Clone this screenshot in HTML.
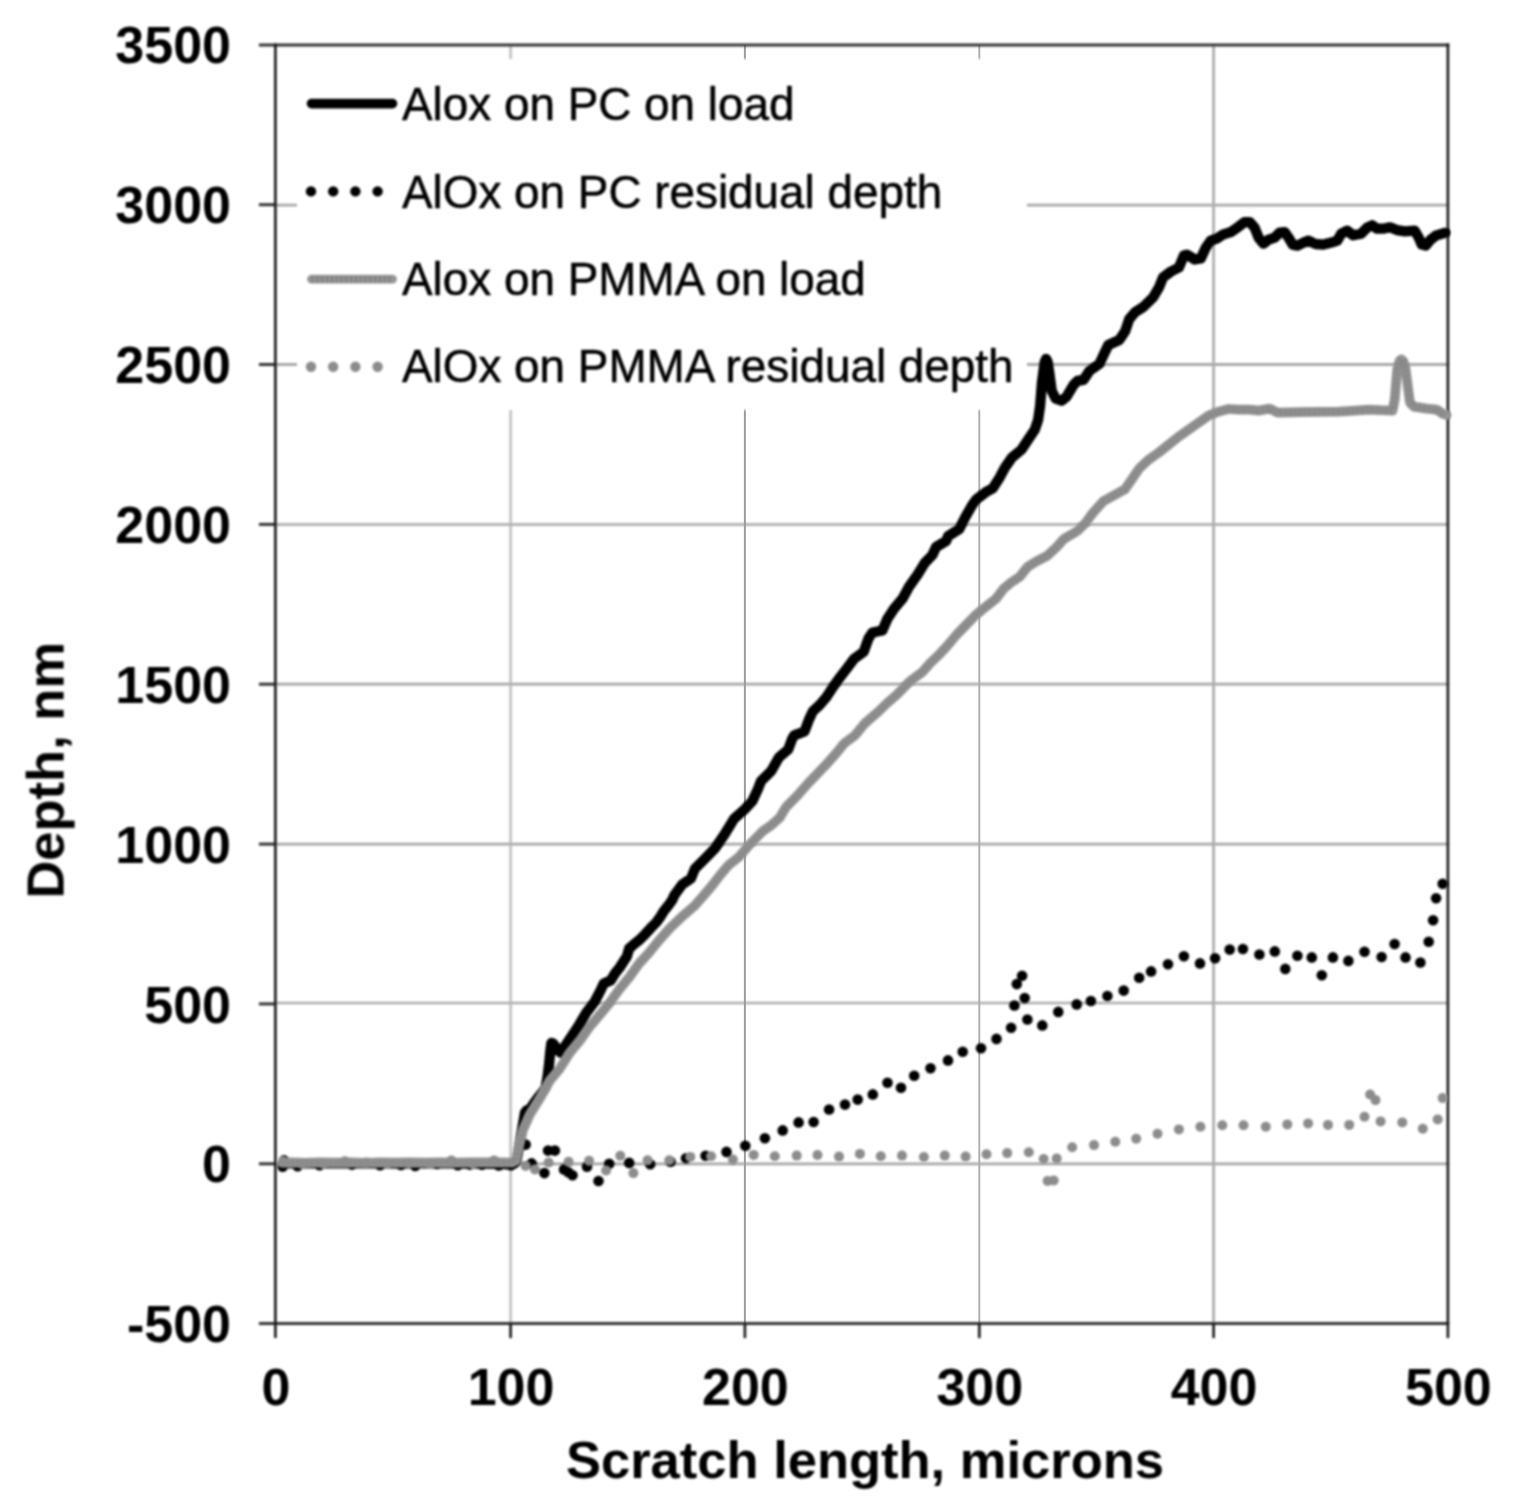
<!DOCTYPE html>
<html lang="en"><head><meta charset="utf-8"><title>Scratch depth vs scratch length</title>
<style>
html,body{margin:0;padding:0;background:#fff;}
body{width:1524px;height:1509px;overflow:hidden;}
svg{display:block;}
.soft{filter:blur(0.9px);}
text{font-family:"Liberation Sans",Arial,Helvetica,sans-serif;fill:#000;}
.tick{font-size:52px;font-weight:bold;}
.title{font-size:52.5px;font-weight:bold;}
.leg{font-size:45.85px;stroke:#000;stroke-width:0.55px;stroke-linejoin:round;}
</style></head><body>
<svg width="1524" height="1509" viewBox="0 0 1524 1509">
<rect x="0" y="0" width="1524" height="1509" fill="#fff"/>
<!-- chart -->
<g fill="none" class="soft">
<line x1="275.4" y1="205.2" x2="1447.9" y2="205.2" stroke="#a8a8a8" stroke-width="2.8"/>
<line x1="275.4" y1="364.5" x2="1447.9" y2="364.5" stroke="#a8a8a8" stroke-width="2.8"/>
<line x1="275.4" y1="524.4" x2="1447.9" y2="524.4" stroke="#b4b4b4" stroke-width="3.0"/>
<line x1="275.4" y1="684.2" x2="1447.9" y2="684.2" stroke="#a6a6a6" stroke-width="2.8"/>
<line x1="275.4" y1="844.1" x2="1447.9" y2="844.1" stroke="#a8a8a8" stroke-width="2.8"/>
<line x1="275.4" y1="1003.0" x2="1447.9" y2="1003.0" stroke="#acacac" stroke-width="2.4"/>
<line x1="275.4" y1="1163.8" x2="1447.9" y2="1163.8" stroke="#a6a6a6" stroke-width="2.8"/>
<line x1="510.6" y1="44.9" x2="510.6" y2="1323.6" stroke="#b4b4b4" stroke-width="2.2"/>
<line x1="1213.6" y1="44.9" x2="1213.6" y2="1323.6" stroke="#aeaeae" stroke-width="2.8"/>
</g>
<line x1="744.9" y1="44.9" x2="744.9" y2="1323.6" stroke="#9c9c9c" stroke-width="2"/>
<line x1="979.3" y1="44.9" x2="979.3" y2="1323.6" stroke="#adadad" stroke-width="1.9"/>
<g class="soft">
<rect x="297.0" y="59.0" width="730.0" height="351.0" fill="#fff"/>
</g>
<g fill="none" class="soft">
<line x1="258.9" y1="44.9" x2="1449.3" y2="44.9" stroke="#343434" stroke-width="3.0"/>
<line x1="258.9" y1="1323.6" x2="1449.3" y2="1323.6" stroke="#343434" stroke-width="3.0"/>
<line x1="258.9" y1="204.7" x2="275.4" y2="204.7" stroke="#343434" stroke-width="3.0"/>
<line x1="258.9" y1="364.5" x2="275.4" y2="364.5" stroke="#343434" stroke-width="3.0"/>
<line x1="258.9" y1="524.4" x2="275.4" y2="524.4" stroke="#343434" stroke-width="3.0"/>
<line x1="258.9" y1="684.2" x2="275.4" y2="684.2" stroke="#343434" stroke-width="3.0"/>
<line x1="258.9" y1="844.1" x2="275.4" y2="844.1" stroke="#343434" stroke-width="3.0"/>
<line x1="258.9" y1="1003.9" x2="275.4" y2="1003.9" stroke="#343434" stroke-width="3.0"/>
<line x1="258.9" y1="1163.8" x2="275.4" y2="1163.8" stroke="#343434" stroke-width="3.0"/>
<line x1="275.4" y1="43.5" x2="275.4" y2="1338.1" stroke="#161616" stroke-width="2.6"/>
<line x1="1447.9" y1="43.5" x2="1447.9" y2="1338.1" stroke="#161616" stroke-width="2.6"/>
<line x1="510.6" y1="1323.6" x2="510.6" y2="1338.1" stroke="#161616" stroke-width="2.6"/>
<line x1="744.9" y1="1323.6" x2="744.9" y2="1338.1" stroke="#161616" stroke-width="2.6"/>
<line x1="979.3" y1="1323.6" x2="979.3" y2="1338.1" stroke="#161616" stroke-width="2.6"/>
<line x1="1213.6" y1="1323.6" x2="1213.6" y2="1338.1" stroke="#161616" stroke-width="2.6"/>
</g>
<g class="soft">
<g fill="none" stroke-linejoin="round" stroke-linecap="round">
<polyline stroke="#000" stroke-width="10.3" points="282.3,1163.2 290.0,1163.4 305.0,1163.2 320.0,1163.5 340.0,1163.2 360.0,1163.4 380.0,1163.3 400.0,1163.5 420.0,1163.4 440.0,1163.2 460.0,1163.5 480.0,1163.6 500.0,1163.8 512.0,1164.5 514.5,1163.5 516.5,1160.0 518.5,1150.0 520.3,1140.0 522.0,1130.0 523.7,1120.0 525.0,1112.5 526.5,1110.5 530.0,1109.0 534.0,1103.0 538.8,1096.7 543.0,1091.5 545.6,1087.6 547.5,1077.0 549.0,1065.0 550.2,1052.0 551.4,1043.0 553.0,1043.5 556.5,1048.0 560.5,1052.7 564.5,1047.0 568.9,1040.3 577.9,1026.8 579.6,1024.0 586.3,1012.7 594.8,1001.5 600.7,990.2 603.8,983.4 610.6,980.6 615.1,973.3 619.6,967.6 626.9,956.4 629.2,948.5 633.1,945.1 639.9,939.5 645.5,933.8 650.6,928.2 656.2,922.5 660.2,916.9 663.7,911.3 668.3,905.6 672.2,900.0 674.5,895.0 682.2,884.5 690.9,878.6 695.0,868.6 705.0,858.7 714.7,848.7 724.3,834.8 734.0,818.9 745.0,809.0 752.4,801.0 757.9,789.1 761.0,781.2 771.1,771.2 779.0,757.3 788.3,749.3 791.9,739.4 794.2,735.4 804.5,731.5 809.0,719.5 812.7,711.6 819.1,705.6 826.0,697.7 832.5,687.7 839.6,677.8 847.3,667.8 854.0,658.9 863.6,651.9 868.5,638.4 872.5,632.5 882.4,630.5 887.5,618.6 894.1,608.6 902.5,598.7 909.0,586.8 917.5,574.8 924.8,562.9 932.4,555.0 936.1,547.0 946.1,541.0 948.1,536.1 959.2,529.1 965.2,517.2 972.1,505.2 976.4,499.3 985.6,492.3 992.8,488.3 999.7,477.4 1005.0,467.5 1012.0,457.5 1021.5,449.6 1028.1,439.6 1034.8,429.7 1038.1,419.8 1040.1,406.0 1041.9,382.8 1044.7,361.9 1046.1,358.9 1047.6,361.9 1049.2,372.0 1051.7,390.7 1055.7,398.7 1061.6,400.7 1066.6,396.7 1073.6,384.8 1077.5,380.8 1083.5,379.8 1089.5,370.9 1099.4,363.9 1105.4,351.0 1108.3,345.0 1119.3,340.0 1125.2,331.1 1129.2,319.2 1135.2,312.2 1143.1,307.2 1153.1,297.3 1159.0,287.4 1163.0,277.4 1171.0,271.5 1178.9,267.5 1183.9,255.5 1186.9,254.6 1194.8,259.5 1200.8,258.5 1205.8,247.6 1210.7,240.6 1216.7,238.6 1222.7,234.7 1230.6,232.2 1238.6,226.7 1244.5,222.2 1249.8,222.2 1254.6,227.7 1258.6,237.7 1263.5,243.6 1268.7,239.6 1274.7,237.7 1279.6,232.7 1284.6,232.1 1288.6,237.7 1292.6,244.6 1297.5,245.6 1303.5,242.6 1308.5,240.6 1315.4,244.0 1323.4,244.6 1331.3,242.6 1337.3,240.6 1341.3,233.7 1347.2,230.7 1353.2,235.3 1361.2,233.7 1367.1,227.7 1372.1,225.3 1377.1,228.7 1383.0,228.7 1390.0,227.3 1396.9,230.1 1404.9,231.3 1414.8,230.7 1418.8,237.7 1421.8,244.6 1425.8,245.6 1430.7,239.6 1435.7,235.7 1441.5,233.9 1445.3,232.8"/>
</g>
<g fill="#000">
<circle cx="284.0" cy="1160.4" r="5.3"/>
<circle cx="282.6" cy="1166.8" r="5.3"/>
<circle cx="297.6" cy="1166.2" r="5.3"/>
<circle cx="319.6" cy="1165.2" r="5.3"/>
<circle cx="352.0" cy="1164.6" r="5.3"/>
<circle cx="380.0" cy="1165.2" r="5.3"/>
<circle cx="401.0" cy="1165.0" r="5.3"/>
<circle cx="415.2" cy="1166.0" r="5.3"/>
<circle cx="437.0" cy="1164.0" r="5.3"/>
<circle cx="457.8" cy="1165.2" r="5.3"/>
<circle cx="470.0" cy="1164.6" r="5.3"/>
<circle cx="482.0" cy="1164.8" r="5.3"/>
<circle cx="498.8" cy="1165.4" r="5.3"/>
<circle cx="511.0" cy="1165.2" r="5.3"/>
<circle cx="525.6" cy="1144.6" r="5.3"/>
<circle cx="531.6" cy="1163.4" r="5.3"/>
<circle cx="544.4" cy="1173.1" r="5.3"/>
<circle cx="548.1" cy="1150.6" r="5.3"/>
<circle cx="554.9" cy="1150.6" r="5.3"/>
<circle cx="564.0" cy="1169.4" r="5.3"/>
<circle cx="568.3" cy="1172.3" r="5.3"/>
<circle cx="572.5" cy="1175.3" r="5.3"/>
<circle cx="587.0" cy="1166.8" r="5.3"/>
<circle cx="598.5" cy="1181.0" r="5.3"/>
<circle cx="609.2" cy="1163.7" r="5.3"/>
<circle cx="629.2" cy="1162.9" r="5.3"/>
<circle cx="650.2" cy="1164.2" r="5.3"/>
<circle cx="670.6" cy="1161.7" r="5.3"/>
<circle cx="686.0" cy="1158.3" r="5.3"/>
<circle cx="705.6" cy="1155.7" r="5.3"/>
<circle cx="726.5" cy="1151.9" r="5.3"/>
<circle cx="745.3" cy="1145.8" r="5.3"/>
<circle cx="764.9" cy="1138.3" r="5.3"/>
<circle cx="782.7" cy="1130.4" r="5.3"/>
<circle cx="798.6" cy="1122.4" r="5.3"/>
<circle cx="813.6" cy="1122.0" r="5.3"/>
<circle cx="829.1" cy="1109.5" r="5.3"/>
<circle cx="845.0" cy="1104.6" r="5.3"/>
<circle cx="857.7" cy="1099.6" r="5.3"/>
<circle cx="872.8" cy="1094.4" r="5.3"/>
<circle cx="887.5" cy="1082.7" r="5.3"/>
<circle cx="901.0" cy="1087.7" r="5.3"/>
<circle cx="914.2" cy="1075.7" r="5.3"/>
<circle cx="930.5" cy="1068.2" r="5.3"/>
<circle cx="948.0" cy="1060.4" r="5.3"/>
<circle cx="962.7" cy="1051.7" r="5.3"/>
<circle cx="981.0" cy="1048.3" r="5.3"/>
<circle cx="996.5" cy="1038.9" r="5.3"/>
<circle cx="1011.1" cy="1027.8" r="5.3"/>
<circle cx="1014.4" cy="1005.5" r="5.3"/>
<circle cx="1016.8" cy="984.1" r="5.3"/>
<circle cx="1022.1" cy="975.7" r="5.3"/>
<circle cx="1024.7" cy="998.0" r="5.3"/>
<circle cx="1027.4" cy="1019.5" r="5.3"/>
<circle cx="1042.3" cy="1025.4" r="5.3"/>
<circle cx="1058.3" cy="1011.9" r="5.3"/>
<circle cx="1076.7" cy="1004.4" r="5.3"/>
<circle cx="1090.9" cy="1001.0" r="5.3"/>
<circle cx="1107.4" cy="996.0" r="5.3"/>
<circle cx="1123.7" cy="990.6" r="5.3"/>
<circle cx="1139.2" cy="977.7" r="5.3"/>
<circle cx="1151.1" cy="971.4" r="5.3"/>
<circle cx="1168.0" cy="964.2" r="5.3"/>
<circle cx="1183.9" cy="956.2" r="5.3"/>
<circle cx="1200.0" cy="963.4" r="5.3"/>
<circle cx="1215.1" cy="958.2" r="5.3"/>
<circle cx="1229.7" cy="949.6" r="5.3"/>
<circle cx="1242.9" cy="949.0" r="5.3"/>
<circle cx="1259.4" cy="954.5" r="5.3"/>
<circle cx="1274.8" cy="951.4" r="5.3"/>
<circle cx="1285.3" cy="968.9" r="5.3"/>
<circle cx="1297.4" cy="955.8" r="5.3"/>
<circle cx="1311.8" cy="957.4" r="5.3"/>
<circle cx="1321.8" cy="975.2" r="5.3"/>
<circle cx="1332.9" cy="957.4" r="5.3"/>
<circle cx="1348.4" cy="960.9" r="5.3"/>
<circle cx="1364.5" cy="951.8" r="5.3"/>
<circle cx="1381.6" cy="957.0" r="5.3"/>
<circle cx="1394.6" cy="944.0" r="5.3"/>
<circle cx="1405.5" cy="957.4" r="5.3"/>
<circle cx="1420.4" cy="962.5" r="5.3"/>
<circle cx="1428.7" cy="941.8" r="5.3"/>
<circle cx="1433.1" cy="920.2" r="5.3"/>
<circle cx="1436.1" cy="898.3" r="5.3"/>
<circle cx="1442.7" cy="883.8" r="5.3"/>
</g>
<g fill="none" stroke-linejoin="round" stroke-linecap="round">
<polyline stroke="#969696" stroke-width="9.7" points="282.0,1162.7 290.0,1162.3 305.0,1162.9 320.0,1162.3 335.0,1162.7 350.0,1162.3 365.0,1162.9 380.0,1162.3 395.0,1162.7 410.0,1162.3 425.0,1162.7 440.0,1162.3 455.0,1162.7 470.0,1162.3 485.0,1162.3 500.0,1162.3 512.0,1162.5 515.8,1160.4 519.0,1146.0 522.7,1130.6 529.7,1114.7 539.6,1098.8 549.6,1080.9 559.5,1069.0 569.5,1053.1 579.4,1041.2 589.3,1027.2 599.3,1015.3 609.2,1003.4 619.2,989.5 629.1,977.5 639.0,963.6 649.0,952.7 658.9,940.5 669.8,928.3 682.4,916.3 693.9,906.4 702.8,896.5 711.3,886.5 720.5,874.6 729.0,864.7 739.2,856.7 749.3,844.8 763.0,830.9 771.6,824.9 779.5,817.9 786.1,807.0 797.8,795.1 808.3,783.1 817.9,773.2 827.3,763.3 836.2,753.3 844.2,743.4 855.0,735.4 864.7,723.5 878.4,711.6 886.6,703.6 896.9,694.7 909.5,681.7 922.2,672.2 931.0,662.3 939.3,654.4 946.8,646.4 956.8,634.5 966.5,624.5 975.2,615.6 986.0,606.6 996.0,598.7 1003.6,588.7 1010.7,582.8 1019.7,576.8 1027.6,566.9 1035.5,561.9 1047.1,555.9 1056.7,547.0 1063.8,539.0 1077.2,531.1 1085.4,523.1 1092.6,513.2 1103.3,501.3 1114.2,495.3 1125.0,489.3 1133.1,477.4 1139.4,468.3 1148.0,460.3 1159.0,452.4 1169.0,444.4 1178.9,436.5 1188.9,429.5 1198.8,422.5 1208.7,415.6 1218.7,411.6 1228.6,409.0 1238.6,409.6 1249.8,409.6 1258.4,410.6 1269.7,408.6 1277.7,412.6 1299.5,412.2 1320.0,411.8 1339.3,411.6 1355.0,410.6 1369.1,409.6 1380.0,410.2 1392.6,410.6 1394.8,398.7 1397.2,370.0 1399.4,361.3 1401.4,359.3 1403.3,361.3 1405.4,367.5 1408.1,388.7 1410.0,402.7 1413.8,406.6 1426.8,408.6 1436.7,409.6 1442.7,413.6 1446.5,415.0"/>
</g>
<polyline class="soft" fill="none" stroke="#808080" stroke-width="7.1" stroke-dasharray="2.2 2.6" stroke-linejoin="round" points="282.0,1162.7 290.0,1162.3 305.0,1162.9 320.0,1162.3 335.0,1162.7 350.0,1162.3 365.0,1162.9 380.0,1162.3 395.0,1162.7 410.0,1162.3 425.0,1162.7 440.0,1162.3 455.0,1162.7 470.0,1162.3 485.0,1162.3 500.0,1162.3 512.0,1162.5 515.8,1160.4 519.0,1146.0 522.7,1130.6 529.7,1114.7 539.6,1098.8 549.6,1080.9 559.5,1069.0 569.5,1053.1 579.4,1041.2 589.3,1027.2 599.3,1015.3 609.2,1003.4 619.2,989.5 629.1,977.5 639.0,963.6 649.0,952.7 658.9,940.5 669.8,928.3 682.4,916.3 693.9,906.4 702.8,896.5 711.3,886.5 720.5,874.6 729.0,864.7 739.2,856.7 749.3,844.8 763.0,830.9 771.6,824.9 779.5,817.9 786.1,807.0 797.8,795.1 808.3,783.1 817.9,773.2 827.3,763.3 836.2,753.3 844.2,743.4 855.0,735.4 864.7,723.5 878.4,711.6 886.6,703.6 896.9,694.7 909.5,681.7 922.2,672.2 931.0,662.3 939.3,654.4 946.8,646.4 956.8,634.5 966.5,624.5 975.2,615.6 986.0,606.6 996.0,598.7 1003.6,588.7 1010.7,582.8 1019.7,576.8 1027.6,566.9 1035.5,561.9 1047.1,555.9 1056.7,547.0 1063.8,539.0 1077.2,531.1 1085.4,523.1 1092.6,513.2 1103.3,501.3 1114.2,495.3 1125.0,489.3 1133.1,477.4 1139.4,468.3 1148.0,460.3 1159.0,452.4 1169.0,444.4 1178.9,436.5 1188.9,429.5 1198.8,422.5 1208.7,415.6 1218.7,411.6 1228.6,409.0 1238.6,409.6 1249.8,409.6 1258.4,410.6 1269.7,408.6 1277.7,412.6 1299.5,412.2 1320.0,411.8 1339.3,411.6 1355.0,410.6 1369.1,409.6 1380.0,410.2 1392.6,410.6 1394.8,398.7 1397.2,370.0 1399.4,361.3 1401.4,359.3 1403.3,361.3 1405.4,367.5 1408.1,388.7 1410.0,402.7 1413.8,406.6 1426.8,408.6 1436.7,409.6 1442.7,413.6 1446.5,415.0"/>
<g fill="#8c8c8c">
<circle cx="283.0" cy="1161.2" r="5.0"/>
<circle cx="302.3" cy="1164.0" r="5.0"/>
<circle cx="323.6" cy="1164.0" r="5.0"/>
<circle cx="344.9" cy="1161.2" r="5.0"/>
<circle cx="366.2" cy="1162.6" r="5.0"/>
<circle cx="387.5" cy="1164.0" r="5.0"/>
<circle cx="408.8" cy="1163.4" r="5.0"/>
<circle cx="430.1" cy="1164.0" r="5.0"/>
<circle cx="451.4" cy="1160.4" r="5.0"/>
<circle cx="472.7" cy="1164.0" r="5.0"/>
<circle cx="494.0" cy="1160.4" r="5.0"/>
<circle cx="525.6" cy="1165.9" r="5.0"/>
<circle cx="535.0" cy="1169.4" r="5.0"/>
<circle cx="548.6" cy="1162.5" r="5.0"/>
<circle cx="568.6" cy="1161.7" r="5.0"/>
<circle cx="589.1" cy="1160.8" r="5.0"/>
<circle cx="606.1" cy="1170.5" r="5.0"/>
<circle cx="620.3" cy="1155.7" r="5.0"/>
<circle cx="633.4" cy="1173.1" r="5.0"/>
<circle cx="647.6" cy="1160.3" r="5.0"/>
<circle cx="669.3" cy="1160.3" r="5.0"/>
<circle cx="690.3" cy="1156.9" r="5.0"/>
<circle cx="711.1" cy="1156.2" r="5.0"/>
<circle cx="732.9" cy="1159.6" r="5.0"/>
<circle cx="753.7" cy="1154.9" r="5.0"/>
<circle cx="774.8" cy="1156.2" r="5.0"/>
<circle cx="796.7" cy="1155.6" r="5.0"/>
<circle cx="817.5" cy="1155.0" r="5.0"/>
<circle cx="839.0" cy="1156.6" r="5.0"/>
<circle cx="859.9" cy="1153.9" r="5.0"/>
<circle cx="880.8" cy="1156.2" r="5.0"/>
<circle cx="902.0" cy="1155.6" r="5.0"/>
<circle cx="923.9" cy="1157.0" r="5.0"/>
<circle cx="944.8" cy="1155.6" r="5.0"/>
<circle cx="965.6" cy="1156.6" r="5.0"/>
<circle cx="986.5" cy="1154.3" r="5.0"/>
<circle cx="1007.2" cy="1153.1" r="5.0"/>
<circle cx="1028.8" cy="1152.3" r="5.0"/>
<circle cx="1043.7" cy="1159.0" r="5.0"/>
<circle cx="1056.7" cy="1158.6" r="5.0"/>
<circle cx="1047.7" cy="1180.9" r="5.0"/>
<circle cx="1053.7" cy="1180.5" r="5.0"/>
<circle cx="1072.2" cy="1147.3" r="5.0"/>
<circle cx="1094.0" cy="1145.1" r="5.0"/>
<circle cx="1115.3" cy="1141.7" r="5.0"/>
<circle cx="1136.2" cy="1138.7" r="5.0"/>
<circle cx="1157.5" cy="1133.8" r="5.0"/>
<circle cx="1178.9" cy="1129.4" r="5.0"/>
<circle cx="1200.4" cy="1126.8" r="5.0"/>
<circle cx="1222.3" cy="1125.2" r="5.0"/>
<circle cx="1243.5" cy="1125.2" r="5.0"/>
<circle cx="1265.8" cy="1126.8" r="5.0"/>
<circle cx="1287.3" cy="1124.4" r="5.0"/>
<circle cx="1308.1" cy="1123.4" r="5.0"/>
<circle cx="1328.0" cy="1124.9" r="5.0"/>
<circle cx="1349.2" cy="1124.9" r="5.0"/>
<circle cx="1364.5" cy="1116.8" r="5.0"/>
<circle cx="1370.1" cy="1094.5" r="5.0"/>
<circle cx="1375.5" cy="1100.1" r="5.0"/>
<circle cx="1380.6" cy="1121.4" r="5.0"/>
<circle cx="1402.3" cy="1122.4" r="5.0"/>
<circle cx="1422.8" cy="1128.7" r="5.0"/>
<circle cx="1437.7" cy="1119.4" r="5.0"/>
<circle cx="1442.7" cy="1098.1" r="5.0"/>
</g>
<text class="tick" text-anchor="end" x="231.0" y="63.4">3500</text>
<text class="tick" text-anchor="end" x="231.0" y="223.3">3000</text>
<text class="tick" text-anchor="end" x="231.0" y="383.1">2500</text>
<text class="tick" text-anchor="end" x="231.0" y="543.0">2000</text>
<text class="tick" text-anchor="end" x="231.0" y="702.8">1500</text>
<text class="tick" text-anchor="end" x="231.0" y="862.7">1000</text>
<text class="tick" text-anchor="end" x="231.0" y="1022.5">500</text>
<text class="tick" text-anchor="end" x="231.0" y="1182.4">0</text>
<text class="tick" text-anchor="end" x="231.0" y="1342.2">-500</text>
<text class="tick" text-anchor="middle" x="275.9" y="1405.2">0</text>
<text class="tick" text-anchor="middle" x="511.1" y="1405.2">100</text>
<text class="tick" text-anchor="middle" x="745.4" y="1405.2">200</text>
<text class="tick" text-anchor="middle" x="979.8" y="1405.2">300</text>
<text class="tick" text-anchor="middle" x="1214.1" y="1405.2">400</text>
<text class="tick" text-anchor="middle" x="1448.4" y="1405.2">500</text>
<text class="title" text-anchor="middle" x="865.0" y="1478.0">Scratch length, microns</text>
<text class="title" text-anchor="middle" transform="translate(63.6 770.3) rotate(-90)">Depth, nm</text>
<line x1="311.5" y1="103.6" x2="392.5" y2="103.6" stroke="#000" stroke-width="9.6" stroke-linecap="round"/>
<text class="leg" x="402.0" y="120.0">Alox on PC on load</text>
<circle cx="311.0" cy="191.4" r="5.2" fill="#000"/>
<circle cx="333.2" cy="191.4" r="5.2" fill="#000"/>
<circle cx="355.4" cy="191.4" r="5.2" fill="#000"/>
<circle cx="377.6" cy="191.4" r="5.2" fill="#000"/>
<text class="leg" x="402.0" y="207.6">AlOx on PC residual depth</text>
<line x1="311.5" y1="279.2" x2="392.5" y2="279.2" stroke="#969696" stroke-width="8.8" stroke-linecap="round"/>
<line x1="311.5" y1="279.2" x2="392.5" y2="279.2" stroke="#808080" stroke-width="6" stroke-dasharray="2.2 2.6"/>
<text class="leg" x="402.0" y="295.1">Alox on PMMA on load</text>
<circle cx="311.0" cy="366.8" r="5.2" fill="#8c8c8c"/>
<circle cx="333.2" cy="366.8" r="5.2" fill="#8c8c8c"/>
<circle cx="355.4" cy="366.8" r="5.2" fill="#8c8c8c"/>
<circle cx="377.6" cy="366.8" r="5.2" fill="#8c8c8c"/>
<text class="leg" x="402.0" y="382.2">AlOx on PMMA residual depth</text>
</g>
</svg>
</body></html>
